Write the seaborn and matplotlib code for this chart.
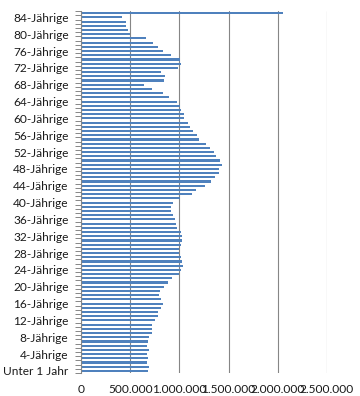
import pandas as pd
import matplotlib.pyplot as plt
import matplotlib.ticker as mticker
import seaborn as sns

# Altersgruppen: Unter 1 Jahr, 1-Jährige ... 84-Jährige, 85 und älter
alter = ["Unter 1 Jahr"] + [f"{a}-Jährige" for a in range(1, 85)] + ["85-Jährige und mehr"]

# Einwohner je Altersjahr
einwohner = [
    685000, 687000, 670000, 677000, 670000, 687000, 675000, 681000, 687000, 718000,
    721000, 721000, 748000, 782000, 782000, 809000, 830000, 809000, 789000, 803000,
    843000, 884000, 925000, 999000, 1013000, 1033000, 1023000, 1013000, 999000, 999000,
    1013000, 1030000, 1023000, 1013000, 972000, 965000, 952000, 935000, 915000, 918000,
    935000, 1010000, 1128000, 1165000, 1260000, 1318000, 1358000, 1399000, 1406000, 1433000,
    1416000, 1369000, 1352000, 1308000, 1274000, 1196000, 1179000, 1138000, 1104000, 1087000,
    1047000, 1047000, 1013000, 1006000, 975000, 891000, 833000, 721000, 637000, 840000,
    850000, 816000, 982000, 1020000, 1005000, 911000, 833000, 782000, 732000, 660000,
    500000, 478000, 454000, 454000, 417000, 2056000,
]

x_ticks = [0, 500000, 1000000, 1500000, 2000000, 2500000]


def plot_altersaufbau():
    df = pd.DataFrame({"Alter": alter, "Einwohner": einwohner})
    order = alter[::-1]

    sns.set_style("white")
    plt.rcParams["font.family"] = ["Lato", "DejaVu Sans"]

    fig = plt.figure(figsize=(3.6, 3.96), dpi=100)
    ax = fig.add_axes([0.225, 0.058, 0.683, 0.914])

    sns.barplot(
        data=df, x="Einwohner", y="Alter", order=order, orient="h",
        color="#4F81BD", saturation=1, width=0.5, linewidth=0, ax=ax
    )

    # nur jede vierte Altersgruppe beschriften
    n = len(order)
    label_pos = [i for i, a in enumerate(order) if alter.index(a) % 4 == 0 and alter.index(a) < 85]
    ax.set_yticks(label_pos)
    ax.set_yticklabels([order[i] for i in label_pos], fontsize=8.6, color="#1a1a1a")
    ax.set_yticks([i - 0.5 for i in range(n + 1)], minor=True)
    ax.tick_params(axis="y", which="major", length=0, pad=9)
    ax.tick_params(axis="y", which="minor", length=4, width=0.7, color="#868686", left=True)
    ax.set_ylim(n - 0.5, -0.5)

    ax.set_xlim(0, 2500000)
    ax.set_xticks(x_ticks)
    ax.xaxis.set_major_formatter(mticker.FuncFormatter(lambda v, p: f"{int(v):,}".replace(",", ".")))
    ax.tick_params(axis="x", length=0, pad=8, labelsize=8.6, labelcolor="#1a1a1a")

    ax.grid(axis="x", color="#868686", linewidth=0.8)
    ax.set_axisbelow(True)
    for side in ["top", "right", "bottom"]:
        ax.spines[side].set_visible(False)
    ax.spines["left"].set_color("#868686")
    ax.spines["left"].set_linewidth(0.8)

    ax.set_xlabel("")
    ax.set_ylabel("")

    fig.savefig("out.png", dpi=100)


if __name__ == "__main__":
    plot_altersaufbau()
